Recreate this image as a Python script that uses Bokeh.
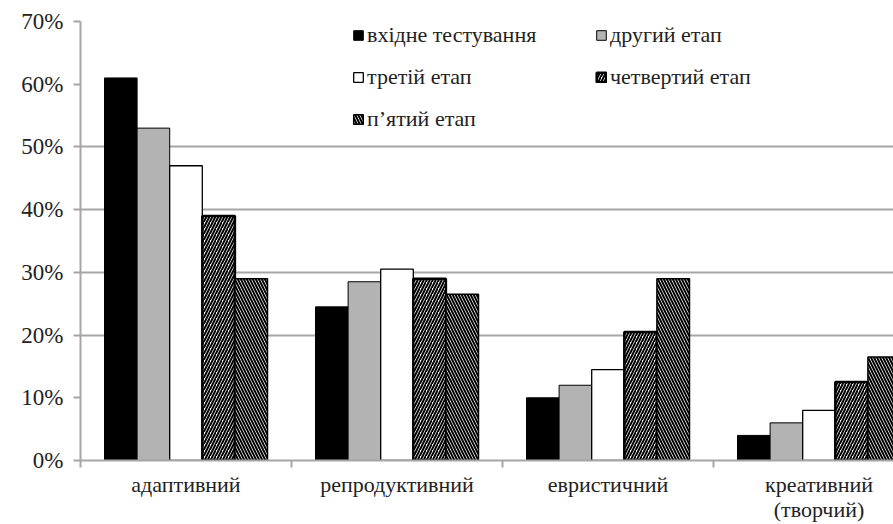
import numpy as np
from bokeh.plotting import figure
from bokeh.models import (ColumnDataSource, Range1d, FixedTicker, NumeralTickFormatter,
                          Legend, LegendItem)
from bokeh.embed import file_html
from bokeh.resources import INLINE

categories = ["адаптивний", "репродуктивний", "евристичний", "креативний\n(творчий)"]
series_names = ["вхідне тестування", "другий етап", "третій етап", "четвертий етап", "п’ятий етап"]
s1 = [61, 24.5, 10, 4]
s2 = [53, 28.5, 12, 6]
s3 = [47, 30.5, 14.5, 8]
s4 = [39, 29, 20.5, 12.5]
s5 = [29, 26.5, 29, 16.5]
series = [s1, s2, s3, s4, s5]
y_ticks = [0, 0.1, 0.2, 0.3, 0.4, 0.5, 0.6, 0.7]
grid_ticks = [0.2, 0.3, 0.4, 0.5, 0.7]

FONT = "Liberation Serif"
GRAY = "#a6a6a6"

W, H = 893, 524
left, top, bottom = 80, 21, 63
cat_px = 211.0
frame_w = W - left

p = figure(width=W, height=H, output_backend="svg", toolbar_location=None,
           x_range=Range1d(0, frame_w / cat_px), y_range=Range1d(0, 0.70),
           min_border_left=left, min_border_right=0, min_border_top=top,
           min_border_bottom=bottom)
p.outline_line_color = None
p.background_fill_color = "white"
p.border_fill_color = "white"

idx = np.arange(len(categories))
bw = 0.1545
styles = [
    dict(fill_color="black", line_color="black", line_width=1),
    dict(fill_color="#b3b3b3", line_color="black", line_width=1),
    dict(fill_color="white", line_color="black", line_width=1.3),
    dict(fill_color="white", line_color="black", line_width=2.5,
         hatch_pattern="right_diagonal_line", hatch_color="black", hatch_scale=6, hatch_weight=2),
    dict(fill_color="white", line_color="black", line_width=1.5,
         hatch_pattern="left_diagonal_line", hatch_color="black", hatch_scale=6, hatch_weight=2),
]
renderers = []
for i, (vals, st) in enumerate(zip(series, styles)):
    src = ColumnDataSource(dict(x=idx + 0.5 + (i - 2) * bw, top=np.array(vals) / 100.0))
    r = p.vbar(x="x", top="top", bottom=0, width=bw, source=src, **st)
    renderers.append(r)

# axes
yax = p.yaxis[0]
yax.ticker = FixedTicker(ticks=y_ticks)
yax.formatter = NumeralTickFormatter(format="0%")
yax.axis_line_color = GRAY
yax.axis_line_width = 2
yax.major_tick_line_color = GRAY
yax.major_tick_line_width = 2
yax.major_tick_out = 7
yax.major_tick_in = 0
yax.minor_tick_line_color = None
yax.major_label_standoff = 10
yax.major_label_text_font = FONT
yax.major_label_text_font_size = "23px"
yax.major_label_text_color = "#222222"

xax = p.xaxis[0]
centers = list(idx + 0.5)
xax.ticker = FixedTicker(ticks=centers, minor_ticks=list(np.arange(len(categories) + 1)))
xax.major_label_overrides = {float(c): lab for c, lab in zip(centers, categories)}
xax.axis_line_color = GRAY
xax.axis_line_width = 2
xax.major_tick_line_color = None
xax.major_tick_out = 0
xax.major_tick_in = 0
xax.minor_tick_line_color = GRAY
xax.minor_tick_line_width = 2
xax.minor_tick_out = 7
xax.minor_tick_in = 0
xax.major_label_standoff = 4
xax.major_label_text_font = FONT
xax.major_label_text_font_size = "22px"
xax.major_label_text_line_height = 1.0
xax.major_label_text_color = "#222222"

p.xgrid.grid_line_color = None
p.ygrid.ticker = FixedTicker(ticks=grid_ticks)
p.ygrid.grid_line_color = GRAY
p.ygrid.grid_line_width = 2

legend = Legend(items=[LegendItem(label=n, renderers=[r]) for n, r in zip(series_names, renderers)],
                location=(272, 328), orientation="horizontal", ncols=2,
                glyph_width=12, glyph_height=12, label_standoff=3, spacing=16,
                padding=0, margin=0, border_line_color=None, background_fill_alpha=0,
                label_text_font=FONT, label_text_font_size="22px", label_text_color="#222222",
                label_height=24, label_width=212)
p.add_layout(legend, "center")

open("out.html", "w").write(file_html(p, INLINE))
